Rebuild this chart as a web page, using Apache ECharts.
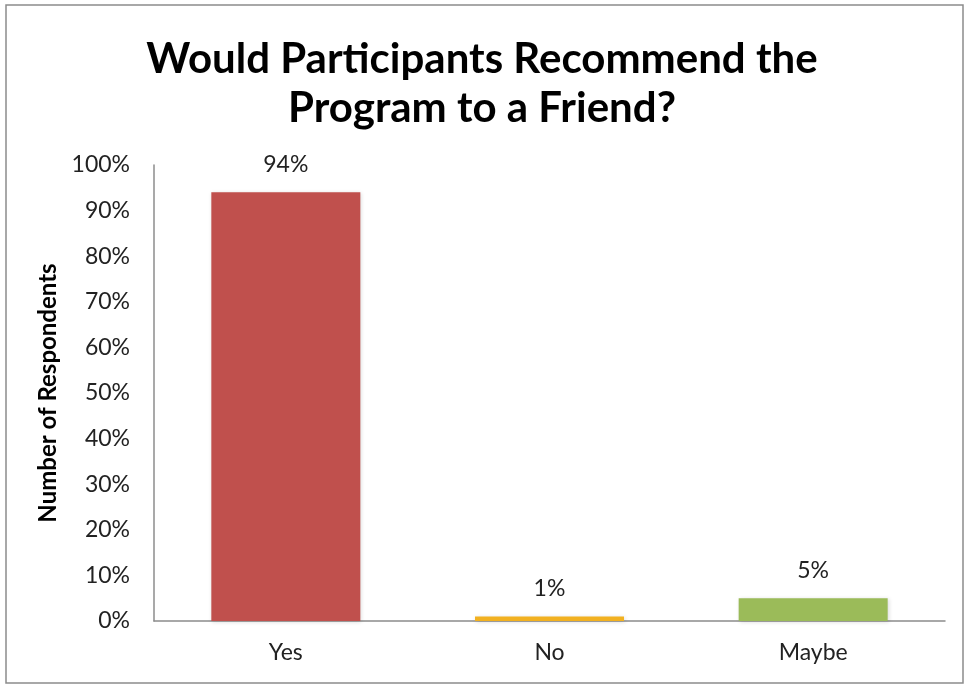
<!DOCTYPE html>
<html>
<head>
<meta charset="utf-8">
<script src="https://cdn.jsdelivr.net/npm/echarts@6/dist/echarts.min.js"></script>
<style>
html,body{margin:0;padding:0;background:#fff;}
#c{width:964px;height:685px;}
</style>
</head>
<body>
<div id="c"></div>
<script>
var categories = ['Yes', 'No', 'Maybe'];
var values = [94, 1, 5];
var barColors = ['#C0504D', '#F2B120', '#9BBB59'];
var yTicks = [0, 10, 20, 30, 40, 50, 60, 70, 80, 90, 100];

var chart = echarts.init(document.getElementById('c'));
var font = 'Lato, "Open Sans", sans-serif';
chart.setOption({
  backgroundColor: '#fff',
  animation: false,
  graphic: [{
    type: 'rect',
    shape: {x: 6, y: 5, width: 957, height: 678},
    style: {fill: 'none', stroke: '#8c8c8c', lineWidth: 1.5},
    silent: true
  }],
  title: {
    text: 'Would Participants Recommend the\nProgram to a Friend?',
    left: 'center',
    top: 30,
    textStyle: {fontFamily: font, fontWeight: 'bold', fontSize: 42, lineHeight: 49, color: '#000'}
  },
  grid: {left: 154, right: 19, top: 165, bottom: 64, containLabel: false},
  xAxis: {
    type: 'category',
    data: categories,
    axisLine: {lineStyle: {color: '#8c8c8c', width: 1.5}},
    axisTick: {show: false},
    axisLabel: {fontFamily: font, fontSize: 23, color: '#222', margin: 20}
  },
  yAxis: {
    type: 'value',
    min: 0,
    max: 100,
    interval: 10,
    name: 'Number of Respondents',
    nameLocation: 'middle',
    nameGap: 91,
    nameTextStyle: {fontFamily: font, fontWeight: 'bold', fontSize: 24, color: '#000'},
    axisLine: {show: true, lineStyle: {color: '#8c8c8c', width: 1.5}},
    axisTick: {show: false},
    splitLine: {show: false},
    axisLabel: {fontFamily: font, fontSize: 23, color: '#222', margin: 24,
      formatter: function (v) { return yTicks.indexOf(v) >= 0 ? v + '%' : ''; }}
  },
  series: [{
    type: 'bar',
    barWidth: 149,
    data: values.map(function (v, i) {
      return {value: v, itemStyle: {color: barColors[i]}};
    }),
    itemStyle: {shadowBlur: 4, shadowColor: 'rgba(0,0,0,0.15)', shadowOffsetX: 1, shadowOffsetY: 1},
    label: {show: true, position: 'top', distance: 16, fontFamily: font, fontSize: 23, color: '#222',
      formatter: function (p) { return p.value + '%'; }}
  }]
});
</script>
</body>
</html>
